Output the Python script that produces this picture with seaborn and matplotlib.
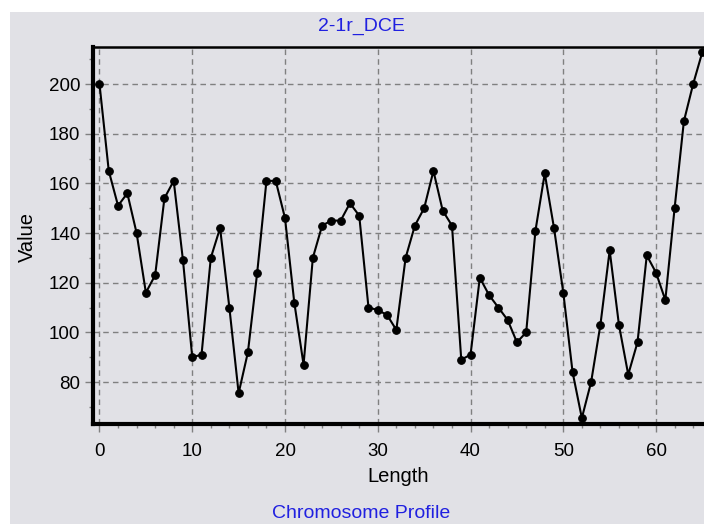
import matplotlib
matplotlib.use("Agg")
import matplotlib.pyplot as plt
import seaborn as sns
import pandas as pd
from matplotlib.patches import Rectangle
from matplotlib.ticker import MultipleLocator

length = list(range(66))
values = [200, 165, 151, 156, 140, 116, 123, 154, 161, 129,
          90, 91, 130, 142, 110, 75.5, 92, 124, 161, 161,
          146, 112, 87, 130, 143, 145, 145, 152, 147, 110,
          109, 107, 101, 130, 143, 150, 165, 149, 143, 89,
          91, 122, 115, 110, 105, 96, 100, 141, 164, 142,
          116, 84, 65.5, 80, 103, 133, 103, 83, 96, 131,
          124, 113, 150, 185, 200, 213]

title_text = "2-1r_DCE"
footer_text = "Chromosome Profile"
x_label = "Length"
y_label = "Value"

df = pd.DataFrame({"Length": length, "Value": values})

sns.set_theme(style="white")
plt.rcParams['font.family'] = ['Liberation Sans', 'DejaVu Sans']

bg = "#E1E1E6"
W, H = 704, 524
fig = plt.figure(figsize=(W / 100, H / 100), dpi=100, facecolor="white")
fig.patches.append(Rectangle((10 / W, 0), 1, (H - 12) / H, transform=fig.transFigure,
                             facecolor=bg, edgecolor="none", zorder=-10))

ax_left, ax_right = 93 / W, 708 / W
ax_top, ax_bot = 1 - 47 / H, 1 - 424 / H
ax = fig.add_axes([ax_left, ax_bot, ax_right - ax_left, ax_top - ax_bot])
ax.set_facecolor(bg)

sns.lineplot(data=df, x="Length", y="Value", ax=ax, color="black", linewidth=1.5,
             marker="o", markersize=5.5, markeredgecolor="black", markerfacecolor="black",
             zorder=5)

ax.set_xlim(-0.7, 65.6)
ax.set_ylim(63.1, 214.9)
ax.xaxis.set_major_locator(MultipleLocator(10))
ax.xaxis.set_minor_locator(MultipleLocator(2))
ax.yaxis.set_major_locator(MultipleLocator(20))
ax.yaxis.set_minor_locator(MultipleLocator(10))

ax.grid(True, which="major", color="#808080", linestyle=(0, (4, 3)), linewidth=1.0)
ax.set_axisbelow(True)

ax.tick_params(axis="both", which="major", direction="out", length=6, width=1,
               color="#808080", labelsize=13.5, labelcolor="black",
               bottom=True, left=True)
ax.tick_params(axis="x", which="major", pad=8)
ax.tick_params(axis="y", which="major", pad=3)
ax.tick_params(axis="both", which="minor", direction="out", length=3, width=1,
               color="#808080", bottom=True, left=True)

for side in ["left", "bottom"]:
    ax.spines[side].set_linewidth(3)
    ax.spines[side].set_color("black")
ax.spines["top"].set_linewidth(1.8)
ax.spines["top"].set_color("black")
ax.spines["right"].set_visible(False)

ax.set_xlabel(x_label, fontsize=14.5, color="black", va="center")
ax.set_ylabel(y_label, fontsize=14.5, color="black", va="center")
ax.xaxis.set_label_coords((398 - 93) / 615, -(477 - 424) / 377)
ax.yaxis.set_label_coords((27 - 93) / 615, (424 - 237) / 377)

fig.text(361 / W, 1 - 26 / H, title_text, color="#2020E0", fontsize=14,
         ha="center", va="center")
fig.text(361 / W, 1 - 514 / H, footer_text, color="#2020E0", fontsize=14,
         ha="center", va="center")

fig.savefig("out.png", dpi=100, facecolor="white")
